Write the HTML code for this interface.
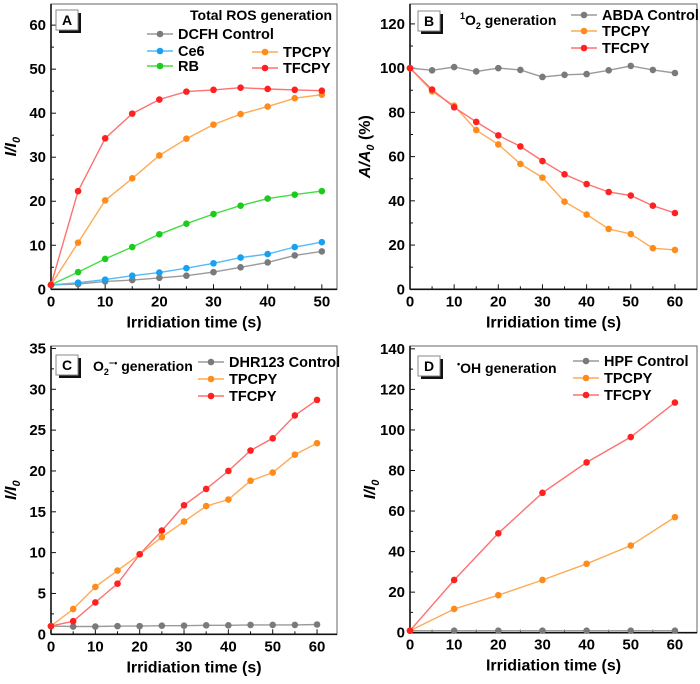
<!DOCTYPE html>
<html><head><meta charset="utf-8"><style>
body{margin:0;background:#fff;width:700px;height:679px;overflow:hidden}
svg{font-family:"Liberation Sans",Arial,sans-serif;font-weight:bold}
</style></head><body>
<svg id="c" width="700" height="679" viewBox="0 0 700 679"></svg>
<script>
const xsA=[0,5,10,15,20,25,30,35,40,45,50];
const aDCFH=[1,1.2,1.8,2.1,2.6,3.1,3.9,5,6.1,7.7,8.6];
const aCe6=[1,1.5,2.2,3.1,3.8,4.8,5.9,7.2,8,9.6,10.7];
const aRB=[1,3.9,6.9,9.6,12.5,14.9,17.1,19,20.6,21.5,22.3];
const aTPCPY=[1,10.6,20.2,25.2,30.4,34.2,37.4,39.8,41.5,43.4,44.2];
const aTFCPY=[1,22.3,34.3,39.9,43.1,44.9,45.3,45.8,45.5,45.3,45.1];
const xsB=[0,5,10,15,20,25,30,35,40,45,50,55,60];
const bABDA=[100,99,100.5,98.5,100,99.2,96,97,97.3,99,101,99.2,97.8];
const bTPCPY=[100,89.5,83,72,65.5,56.7,50.5,39.6,33.8,27.3,25,18.6,17.8];
const bTFCPY=[100,90.3,82.3,75.7,69.6,64.6,58,52,47.6,44,42.4,37.8,34.5];
const xsC=[0,5,10,15,20,25,30,35,40,45,50,55,60];
const cDHR=[1,0.95,0.95,1,1,1.05,1.05,1.1,1.1,1.15,1.15,1.15,1.2];
const cTPCPY=[1,3.1,5.8,7.8,9.8,11.9,13.8,15.7,16.5,18.8,19.8,22,23.4];
const cTFCPY=[1,1.6,3.9,6.2,9.8,12.7,15.8,17.8,20,22.5,24,26.8,28.7];
const xsD=[0,10,20,30,40,50,60];
const dHPF=[1,1,1,1,1,1,1];
const dTPCPY=[1,11.7,18.5,26,34,43,57];
const dTFCPY=[1,26,49,69,84,96.5,113.5];
const xTicksA=[0,10,20,30,40,50], yTicksA=[0,10,20,30,40,50,60];
const xTicks60=[0,10,20,30,40,50,60];
const yTicksB=[0,20,40,60,80,100,120];
const yTicksC=[0,5,10,15,20,25,30,35];
const yTicksD=[0,20,40,60,80,100,120,140];

const NS="http://www.w3.org/2000/svg";
const svg=document.getElementById('c');
function mk(tag,attrs,parent,text){const e=document.createElementNS(NS,tag);for(const k in attrs)e.setAttribute(k,attrs[k]);if(text!==undefined)e.textContent=text;(parent||svg).appendChild(e);return e;}

const COL={gray:['#9a9a9a','#7a7a7a'],blue:['#55bbf5','#1aa0f0'],green:['#44dd44','#1ccc1c'],orange:['#ffaa55','#ff8c1a'],red:['#ff7070','#ff2020']};

function panel(p){
  const g=mk('g',{});
  
  
  const X=v=>p.x0+(v-p.xmin)/(p.xmax-p.xmin)*(p.x1-p.x0);
  const Y=v=>p.y0-(v-p.ymin)/(p.ymax-p.ymin)*(p.y0-p.y1);
  const fr=mk('rect',{x:p.x0,y:p.y1,width:p.x1-p.x0,height:p.y0-p.y1,fill:'none',stroke:'#666','stroke-width':1},g);
  
  mk('line',{x1:p.x0,y1:p.y0,x2:p.x1,y2:p.y0,stroke:'#111','stroke-width':1.6},g);
  mk('line',{x1:p.x0,y1:p.y0,x2:p.x0,y2:p.y1,stroke:'#111','stroke-width':1.6},g);
  p.xt.forEach((v,i)=>{const x=X(v);mk('line',{x1:x,y1:p.y0,x2:x,y2:p.y0-5,stroke:'#111'},g);
    if(i<p.xt.length-1){const xm=X(v+(p.xt[1]-p.xt[0])/2);mk('line',{x1:xm,y1:p.y0,x2:xm,y2:p.y0-3,stroke:'#111'},g);}
    const t=mk('text',{x:x,y:p.y0+17,'text-anchor':'middle','font-size':15},g,String(v));
    });
  p.yt.forEach((v,i)=>{const y=Y(v);mk('line',{x1:p.x0,y1:y,x2:p.x0+5,y2:y,stroke:'#111'},g);
    if(i<p.yt.length-1){const ym=Y(v+(p.yt[1]-p.yt[0])/2);mk('line',{x1:p.x0,y1:ym,x2:p.x0+3,y2:ym,stroke:'#111'},g);}
    const t=mk('text',{x:p.x0-5,y:y+5,'text-anchor':'end','font-size':15},g,String(v));
    });
  const xt=mk('text',{x:(p.x0+p.x1)/2,y:p.y0+38,'text-anchor':'middle','font-size':16},g,'Irridiation time (s)');
  
  const yt=mk('text',{transform:`translate(${p.ytx},${(p.y0+p.y1)/2}) rotate(-90)`,'text-anchor':'middle','font-size':16,'font-style':'italic'},g);
  
  yt.innerHTML=p.ytitle;
  p.series.forEach(s=>{
    const c=COL[s.col];
    const pts=s.ys.map((v,i)=>X(p.xs[i]).toFixed(1)+','+Y(v).toFixed(1)).join(' ');
    const pl=mk('polyline',{points:pts,fill:'none',stroke:c[0],'stroke-width':1.4},g);
    
    
    s.ys.forEach((v,i)=>{const m=mk('circle',{cx:X(p.xs[i]),cy:Y(v),r:3.3,fill:c[1]},g);
      });
    const le=mk('g',{},g);
    
    mk('line',{x1:s.lx,y1:s.ly,x2:s.lx+26,y2:s.ly,stroke:c[0],'stroke-width':1.4},le);
    mk('circle',{cx:s.lx+13,cy:s.ly,r:3.3,fill:c[1]},le);
    mk('text',{x:s.lx+31,y:s.ly+5,'font-size':14.5},le,s.label);
  });
  const bx=mk('g',{},g);
  mk('rect',{x:p.bx+3,y:p.by+3,width:22,height:20,fill:'#111'},bx);
  mk('rect',{x:p.bx,y:p.by,width:22,height:20,fill:'#fff',stroke:'#888'},bx);
  mk('text',{x:p.bx+11,y:p.by+15,'text-anchor':'middle','font-size':14},bx,p.letter);
  const tt=mk('text',{x:p.tx,y:p.ty,'font-size':14},g);
  
  tt.innerHTML=p.title;
}

panel({name:'panel-a-total-ros',x0:51,x1:337,y0:289.3,y1:4,xmin:0,xmax:52.8,ymin:0,ymax:64.8,xs:xsA,xt:xTicksA,yt:yTicksA,ytx:16,
 ytitle:'I/I<tspan font-size="11" dy="4">0</tspan>',letter:'A',bx:56,by:10,tx:190,ty:20,title:'Total ROS generation',
 series:[{label:'DCFH Control',ys:aDCFH,col:'gray',lx:147,ly:34},{label:'Ce6',ys:aCe6,col:'blue',lx:147,ly:51},
 {label:'RB',ys:aRB,col:'green',lx:147,ly:66},{label:'TPCPY',ys:aTPCPY,col:'orange',lx:252,ly:52},{label:'TFCPY',ys:aTFCPY,col:'red',lx:252,ly:68}]});
panel({name:'panel-b-singlet-oxygen',x0:410,x1:697,y0:289.3,y1:4,xmin:0,xmax:65,ymin:0,ymax:129,xs:xsB,xt:xTicks60,yt:yTicksB,ytx:370,
 ytitle:'A/A<tspan font-size="11" dy="4">0</tspan><tspan dy="-4" font-style="normal"> (%)</tspan>',letter:'B',bx:418,by:11,tx:460,ty:25,
 title:'<tspan font-size="9" dy="-6">1</tspan><tspan dy="6">O</tspan><tspan font-size="9" dy="4">2</tspan><tspan dy="-4"> generation</tspan>',
 series:[{label:'ABDA Control',ys:bABDA,col:'gray',lx:571,ly:15},{label:'TPCPY',ys:bTPCPY,col:'orange',lx:571,ly:31},{label:'TFCPY',ys:bTFCPY,col:'red',lx:571,ly:48}]});
panel({name:'panel-c-superoxide',x0:51,x1:337,y0:634.3,y1:346,xmin:0,xmax:64.5,ymin:0,ymax:35.3,xs:xsC,xt:xTicks60,yt:yTicksC,ytx:16,
 ytitle:'I/I<tspan font-size="11" dy="4">0</tspan>',letter:'C',bx:56,by:355,tx:93,ty:371,
 title:'O<tspan font-size="9" dy="4">2</tspan><tspan font-size="9" dy="-9">−•</tspan><tspan dy="5"> generation</tspan>',
 series:[{label:'DHR123 Control',ys:cDHR,col:'gray',lx:198,ly:362},{label:'TPCPY',ys:cTPCPY,col:'orange',lx:198,ly:379},{label:'TFCPY',ys:cTFCPY,col:'red',lx:198,ly:396}]});
panel({name:'panel-d-hydroxyl',x0:410,x1:697,y0:632.7,y1:346,xmin:0,xmax:65,ymin:0,ymax:141.4,xs:xsD,xt:xTicks60,yt:yTicksD,ytx:375,
 ytitle:'I/I<tspan font-size="11" dy="4">0</tspan>',letter:'D',bx:418,by:356,tx:457,ty:373,
 title:'<tspan font-size="9" dy="-6">•</tspan><tspan dy="6">OH generation</tspan>',
 series:[{label:'HPF Control',ys:dHPF,col:'gray',lx:573,ly:361},{label:'TPCPY',ys:dTPCPY,col:'orange',lx:573,ly:378},{label:'TFCPY',ys:dTFCPY,col:'red',lx:573,ly:395}]});
</script>
</body></html>
